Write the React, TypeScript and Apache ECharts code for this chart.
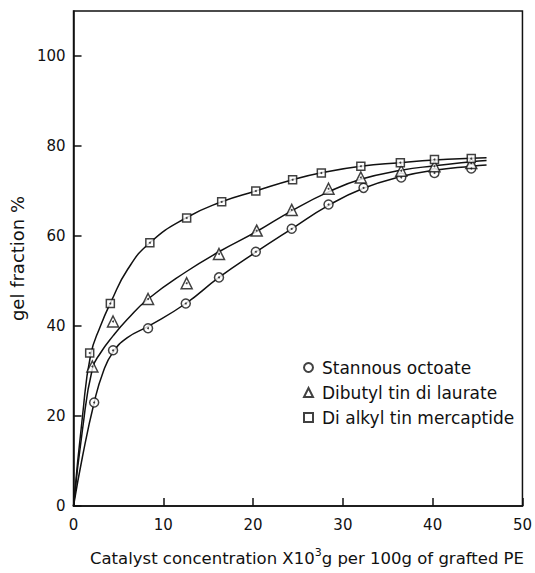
import React, { useEffect, useRef } from "react";
import * as echarts from "echarts";

const seriesNames = ["Stannous octoate", "Dibutyl tin di laurate", "Di alkyl tin mercaptide"];

// measured points
const stannousPts = [[2.3, 23], [4.4, 34.6], [8.3, 39.5], [12.5, 45], [16.2, 50.8], [20.3, 56.5], [24.3, 61.6], [28.4, 67], [32.3, 70.7], [36.5, 73], [40.2, 74], [44.3, 75]];
const dibutylPts = [[2.1, 31], [4.4, 41], [8.3, 46], [12.6, 49.5], [16.2, 56], [20.4, 61.2], [24.3, 65.8], [28.4, 70.5], [32, 73], [36.5, 74.5], [40.2, 75.5], [44.3, 76.2]];
const dialkylPts = [[1.8, 34], [4.1, 45], [8.5, 58.5], [12.6, 64], [16.5, 67.6], [20.3, 70], [24.4, 72.5], [27.6, 74], [32, 75.5], [36.4, 76.3], [40.2, 77], [44.3, 77.2]];

// fitted curves as drawn
const stannousCurve = [[0, 0], [1, 11], [2.3, 23], [3.3, 29.8], [4.4, 34.2], [6, 37.4], [8.3, 39.9], [12.5, 45], [16.2, 50.8], [20.3, 56.4], [24.3, 61.6], [28.4, 66.8], [32.3, 70.6], [36.5, 73.2], [40.2, 74.6], [44.3, 75.5], [46, 75.8]];
const dibutylCurve = [[0, 0], [1, 17], [2.1, 30.5], [3, 34], [4.4, 37.8], [6, 41.5], [8.3, 46], [12.5, 52], [16.2, 56.5], [20.4, 61], [24.3, 65.6], [28.4, 69.8], [32, 72.6], [36.5, 74.6], [40.2, 75.6], [44.3, 76.5], [46, 76.8]];
const dialkylCurve = [[0, 0], [1, 20], [1.9, 33.5], [3, 40], [4.2, 45.5], [6, 52.5], [8.5, 58.5], [12.5, 64], [16.5, 67.6], [20.3, 70], [24.4, 72.5], [28, 74.2], [32, 75.5], [36.4, 76.3], [40.2, 76.9], [44.3, 77.3], [46, 77.4]];

const xTicks = [0, 10, 20, 30, 40, 50];
const yTicks = [0, 20, 40, 60, 80, 100];

const FONT = "DejaVu Sans";
const INK = "#111";

export default function App() {
  const ref = useRef<HTMLDivElement>(null);
  useEffect(() => {
    if (!ref.current) return;
    const chart = echarts.init(ref.current, null, { renderer: "svg" });
    const lineS = (data: number[][]) => ({
      type: "line",
      data,
      smooth: 0.5,
      showSymbol: false,
      silent: true,
      lineStyle: { color: INK, width: 1.5 },
      z: 2,
    });
    const marker = (name: string, data: number[][], symbol: string, size: number) => ({
      type: "scatter",
      name,
      data,
      symbol,
      symbolSize: size,
      itemStyle: { color: "#fff", borderColor: INK, borderWidth: 1.5 },
      z: 3,
    });
    const dots = (data: number[][]) => ({
      type: "scatter",
      data,
      symbol: "circle",
      symbolSize: 2,
      silent: true,
      itemStyle: { color: INK },
      z: 4,
    });
    chart.setOption({
      animation: false,
      backgroundColor: "#fff",
      textStyle: { fontFamily: FONT, color: INK },
      grid: { left: 73, right: 10, top: 11, bottom: 67, show: true, borderColor: INK, borderWidth: 1.5, backgroundColor: "transparent" },
      xAxis: {
        type: "value",
        min: xTicks[0],
        max: xTicks[xTicks.length - 1],
        interval: 10,
        splitLine: { show: false },
        axisLine: { show: true, lineStyle: { color: INK, width: 1.5 } },
        axisTick: { show: true, inside: true, length: 8, lineStyle: { color: INK, width: 1.5 } },
        axisLabel: { color: INK, fontSize: 15, fontFamily: FONT, margin: 11 },
        name: "Catalyst concentration X10{sup|3}g per 100g of grafted PE",
        nameLocation: "middle",
        nameGap: 41,
        nameTextStyle: {
          color: INK,
          fontSize: 16.5,
          fontFamily: FONT,
          padding: [0, 0, 0, 18],
          rich: { sup: { fontSize: 11, fontFamily: FONT, color: INK, verticalAlign: "top", lineHeight: 22 } },
        },
      },
      yAxis: {
        type: "value",
        min: 0,
        max: 110,
        interval: 20,
        splitLine: { show: false },
        axisLine: { show: true, lineStyle: { color: INK, width: 1.5 } },
        axisTick: { show: true, inside: true, length: 8, lineStyle: { color: INK, width: 1.5 } },
        axisLabel: { color: INK, fontSize: 15, fontFamily: FONT, margin: 8, showMaxLabel: false, formatter: (v: number) => (yTicks.includes(v) ? String(v) : "") },
        name: "gel fraction %",
        nameLocation: "middle",
        nameGap: 44,
        nameTextStyle: { color: INK, fontSize: 18, fontFamily: FONT },
      },
      legend: {
        orient: "vertical",
        left: 298,
        top: 353,
        itemWidth: 9,
        itemHeight: 9,
        itemGap: 6,
        data: seriesNames,
        textStyle: { color: INK, fontSize: 17, fontFamily: FONT, lineHeight: 19, padding: [0, 0, 0, 4] },
      },
      series: [
        lineS(stannousCurve),
        lineS(dibutylCurve),
        lineS(dialkylCurve),
        marker(seriesNames[0], stannousPts, "circle", 9),
        marker(seriesNames[1], dibutylPts, "triangle", 11),
        marker(seriesNames[2], dialkylPts, "rect", 8),
        dots(stannousPts),
        dots(dibutylPts),
        dots(dialkylPts),
      ],
    });
    return () => chart.dispose();
  }, []);
  return <div ref={ref} style={{ position: "fixed", left: 0, top: 0, width: 535, height: 573, background: "#fff" }} />;
}
